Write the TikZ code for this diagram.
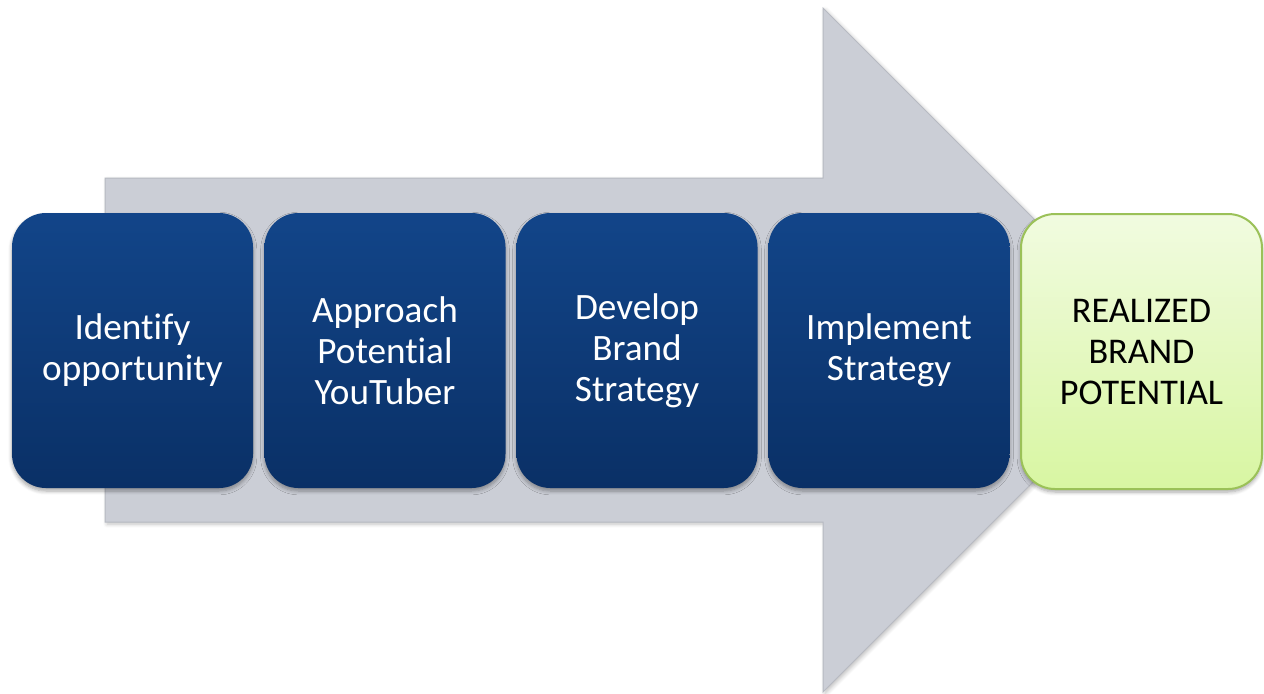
\documentclass[tikz,border=0pt]{standalone}
\usepackage{fontspec}
\setmainfont{Carlito}[Ligatures=NoCommon]
\usetikzlibrary{shadows,shadows.blur}
\definecolor{arrowgray}{HTML}{CBCED6}
\definecolor{arrowedge}{HTML}{B7BAC2}
\definecolor{bluetop}{HTML}{124589}
\definecolor{bluebot}{HTML}{0A3066}
\definecolor{greentop}{HTML}{F1FBE0}
\definecolor{greenbot}{HTML}{D8F6A2}
\definecolor{greenedge}{HTML}{9BC158}
\tikzset{
  stepbox/.style={rounded corners=17pt, minimum width=120.5pt, minimum height=137.5pt,
    align=center, inner sep=0pt,
    blur shadow={shadow xshift=0pt, shadow yshift=-1.5pt, shadow blur steps=6, shadow opacity=35}},
  bluebox/.style={stepbox, top color=bluetop, bottom color=bluebot, text=white,
    font=\fontsize{18.6}{20.5}\selectfont},
  goalbox/.style={stepbox, top color=greentop, bottom color=greenbot, draw=greenedge,
    line width=1pt, text=black, font=\fontsize{18.1}{20.5}\selectfont}
}
\begin{document}
\begin{tikzpicture}[x=0.5pt, y=-0.5pt]
  \useasboundingbox (0,0) rectangle (1264,693);
  % big background arrow
  \coordinate (s1) at (105,178);
  \coordinate (s2) at (823,178);
  \coordinate (h1) at (823,8);
  \coordinate (tip) at (1165,350);
  \coordinate (h2) at (823,692);
  \coordinate (s3) at (823,522);
  \coordinate (s4) at (105,522);
  \fill[arrowgray, draw=arrowedge, line width=0.5pt,
    blur shadow={shadow xshift=1pt, shadow yshift=-1pt, shadow blur steps=5, shadow opacity=25}]
    (s1) -- (s2) -- (h1) -- (tip) -- (h2) -- (s3) -- (s4) -- cycle;
  % process steps
  \node[bluebox] (n1) at (132.5,350.5) {Identify\\opportunity};
  \node[bluebox] (n2) at (385,350.5) {Approach\\Potential\\YouTuber};
  \node[bluebox] (n3) at (637,350.5) {Develop\\Brand\\Strategy};
  \node[bluebox] (n4) at (889,350.5) {Implement\\Strategy};
  \node[goalbox] (n5) at (1141.5,351.5) {REALIZED\\BRAND\\POTENTIAL};
\end{tikzpicture}
\end{document}
